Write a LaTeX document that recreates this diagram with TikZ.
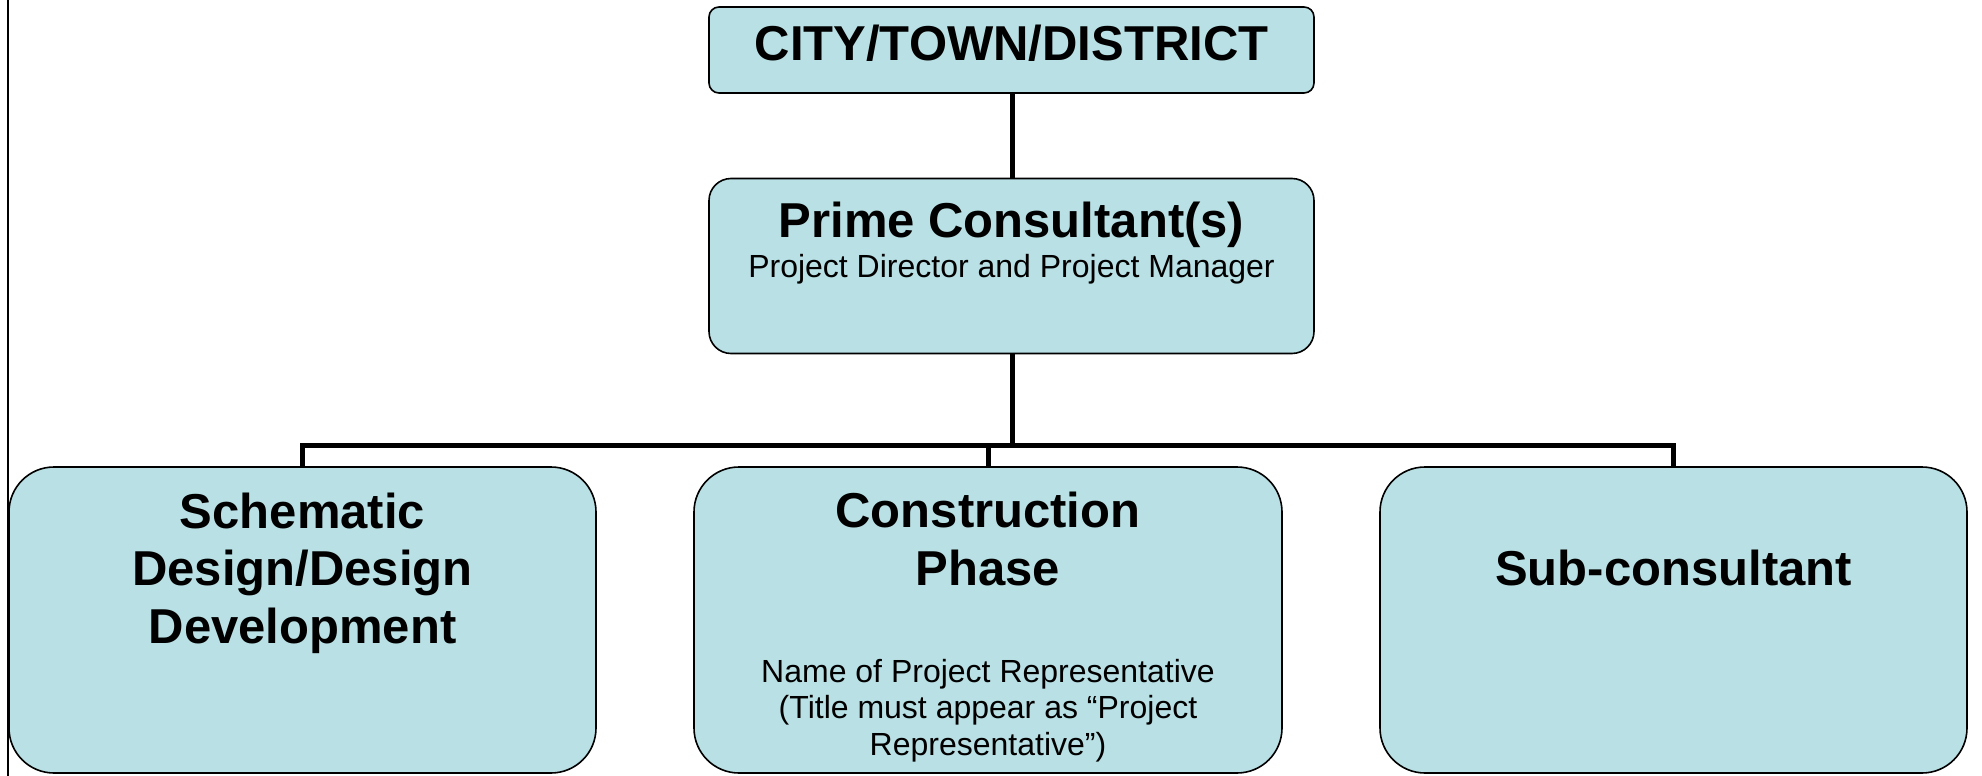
\documentclass[tikz,border=0pt]{standalone}
\usepackage{fontspec}
\setmainfont{Liberation Sans}
\usetikzlibrary{positioning}
\definecolor{boxfill}{RGB}{185,224,228}
\tikzset{
  unit/.style={draw, fill=boxfill, line width=1.6pt, inner sep=0pt},
  link/.style={line width=5pt},
  bigtext/.style={font=\fontsize{49}{57.5}\selectfont\bfseries, align=center, inner sep=0pt},
  smalltext/.style={font=\fontsize{32}{36.5}\selectfont, align=center, inner sep=0pt}
}
\begin{document}
\begin{tikzpicture}[x=1pt,y=-1pt]
\useasboundingbox (0,0) rectangle (1982,776);

% page edge on the left
\draw[line width=2pt] (7.5,0) -- (7.5,776);

% boxes
\node[unit, rounded corners=10pt, minimum width=605pt, minimum height=86pt] (city) at (1011.5,50) {};
\node[unit, rounded corners=22pt, minimum width=605pt, minimum height=175pt] (prime) at (1011.5,266) {};
\node[unit, rounded corners=45pt, minimum width=587pt, minimum height=306pt] (sdd) at (302.5,620) {};
\node[unit, rounded corners=45pt, minimum width=588pt, minimum height=306pt] (cp) at (988,620) {};
\node[unit, rounded corners=45pt, minimum width=587pt, minimum height=306pt] (sub) at (1673.5,620) {};

% texts (base = baseline of the last line)
\node[bigtext, anchor=base] (cityT) at (1011.5,60) {CITY/TOWN/DISTRICT};
\node[bigtext, anchor=base] (primeT) at (1011.5,237) {Prime Consultant(s)};
\node[smalltext, anchor=base] (primeS) at (1011.5,277) {Project Director and Project Manager};
\node[bigtext, anchor=base] (sddT) at (302.5,643) {Schematic\\Design/Design\\Development};
\node[bigtext, anchor=base] (cpT) at (988,585) {Construction\\Phase};
\node[smalltext, anchor=base] (cpS) at (988,755) {Name of Project Representative\\(Title must appear as “Project\\Representative”)};
\node[bigtext, anchor=base] (subT) at (1673.5,585) {Sub-consultant};

% connectors
\coordinate (bus) at (1012,445.5);
\draw[link] (city.south -| bus) -- (prime.north -| bus);
\draw[link] (prime.south -| bus) -- (bus);
\draw[link] (sdd.north) |- (bus) -| (sub.north);
\draw[link] (cp.north) -- (cp.north |- bus);
\end{tikzpicture}
\end{document}
